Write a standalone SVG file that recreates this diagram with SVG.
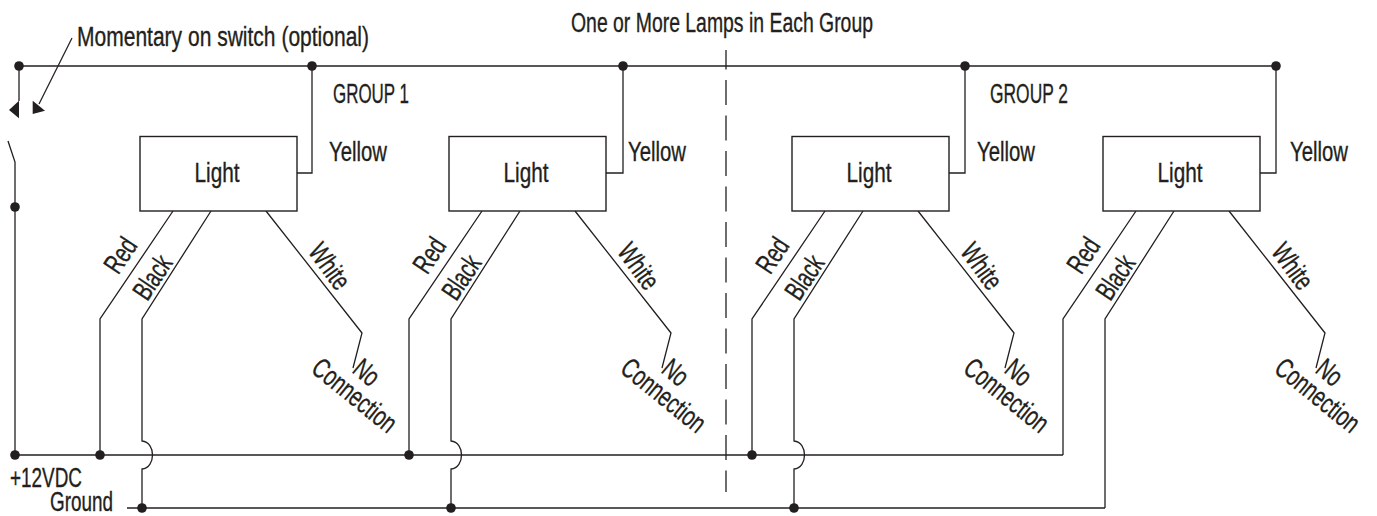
<svg xmlns="http://www.w3.org/2000/svg" width="1377" height="516" viewBox="0 0 1377 516">
<style>
.w{fill:none;stroke:#231f20;stroke-width:1.3}
.box{fill:#fff;stroke:#231f20;stroke-width:1.4}
.dot{fill:#231f20}
.dash{fill:none;stroke:#231f20;stroke-width:1.3;stroke-dasharray:25 10.5;stroke-dashoffset:5.5}
text{font-family:"Liberation Sans Narrow","Liberation Sans",Arial,sans-serif;fill:#231f20;stroke:#231f20;stroke-width:0.35;font-size:27px}
.lb{font-size:28px}
.mid{text-anchor:middle}
</style>
<rect width="1377" height="516" fill="#fff"/>

<g id="titles">
<text x="77" y="46" textLength="292" lengthAdjust="spacingAndGlyphs">Momentary on switch (optional)</text>
<text x="571" y="32" textLength="302" lengthAdjust="spacingAndGlyphs">One or More Lamps in Each Group</text>
<text x="333" y="103" font-size="28" textLength="76" lengthAdjust="spacingAndGlyphs">GROUP 1</text>
<text x="990" y="103" font-size="28" textLength="78" lengthAdjust="spacingAndGlyphs">GROUP 2</text>
<text x="10" y="487" textLength="72" lengthAdjust="spacingAndGlyphs">+12VDC</text>
<text x="50" y="511" font-size="26" textLength="63" lengthAdjust="spacingAndGlyphs">Ground</text>
</g>

<path class="dash" d="M726,50 V492"/>

<g id="switch">
<path class="w" d="M19,66 V101"/>
<path class="dot" d="M19,100.7 L19,118.3 L9,110 Z"/>
<path class="dot" d="M32.7,100.7 L32.7,114 L45,110.7 Z"/>
<path class="w" d="M72,38 L39,104"/>
<path class="w" d="M8,141 L15,162 V455"/>
<circle class="dot" cx="15" cy="207" r="4.8"/>
</g>

<g id="connectors">
<path class="w" d="M19,66 H1276"/>
<path class="w" d="M15,455 H1063"/>
<path class="w" d="M127,508 H1105"/>
<!-- light 1 wires -->
<path class="w" d="M312,66 V173 H297"/>
<path class="w" d="M173,211 L100,319 V455"/>
<path class="w" d="M211,211 L142,319 V441 C156,442 156,468 142,469 V508"/>
<path class="w" d="M266,211 L362,333 L353,368"/>
<!-- light 2 wires -->
<path class="w" d="M623,66 V173 H606"/>
<path class="w" d="M482,211 L409,319 V455"/>
<path class="w" d="M520,211 L451,319 V441 C465,442 465,468 451,469 V508"/>
<path class="w" d="M575,211 L671,333 L662,368"/>
<!-- light 3 wires -->
<path class="w" d="M965,66 V173 H949"/>
<path class="w" d="M825,211 L752,319 V455"/>
<path class="w" d="M863,211 L794,319 V441 C808,442 808,468 794,469 V508"/>
<path class="w" d="M918,211 L1014,333 L1005,368"/>
<!-- light 4 wires -->
<path class="w" d="M1276,66 V173 H1260"/>
<path class="w" d="M1136,211 L1063,319 V455"/>
<path class="w" d="M1174,211 L1105,319 V508"/>
<path class="w" d="M1229,211 L1325,333 L1316,368"/>
<!-- junction dots -->
<circle class="dot" cx="19" cy="66" r="4.8"/>
<circle class="dot" cx="312" cy="66" r="4.8"/>
<circle class="dot" cx="623" cy="66" r="4.8"/>
<circle class="dot" cx="965" cy="66" r="4.8"/>
<circle class="dot" cx="1276" cy="66" r="4.8"/>
<circle class="dot" cx="15" cy="455" r="4.8"/>
<circle class="dot" cx="100" cy="455" r="4.8"/>
<circle class="dot" cx="409" cy="455" r="4.8"/>
<circle class="dot" cx="752" cy="455" r="4.8"/>
<circle class="dot" cx="142" cy="508" r="4.8"/>
<circle class="dot" cx="451" cy="508" r="4.8"/>
<circle class="dot" cx="794" cy="508" r="4.8"/>
</g>

<g id="light1">
<rect class="box" x="140" y="136.5" width="157" height="74.5"/>
<text class="mid" x="217" y="182" font-size="28" textLength="45" lengthAdjust="spacingAndGlyphs">Light</text>
<text x="329" y="161" textLength="58" lengthAdjust="spacingAndGlyphs">Yellow</text>
<text class="lb mid" transform="translate(120,255) rotate(-56)" y="10" textLength="36" lengthAdjust="spacingAndGlyphs">Red</text>
<text class="lb mid" transform="translate(152,277) rotate(-56)" y="10" textLength="47" lengthAdjust="spacingAndGlyphs">Black</text>
<text class="lb mid" transform="translate(330,266) rotate(54)" y="10" textLength="50" lengthAdjust="spacingAndGlyphs">White</text>
<text class="lb mid" transform="translate(367,372) rotate(40)" y="10" textLength="25" lengthAdjust="spacingAndGlyphs">No</text>
<text class="lb mid" transform="translate(355,395) rotate(39)" y="10" textLength="100" lengthAdjust="spacingAndGlyphs">Connection</text>
</g>

<g id="light2">
<rect class="box" x="449" y="136.5" width="157" height="74.5"/>
<text class="mid" x="526" y="182" font-size="28" textLength="45" lengthAdjust="spacingAndGlyphs">Light</text>
<text x="628" y="161" textLength="58" lengthAdjust="spacingAndGlyphs">Yellow</text>
<text class="lb mid" transform="translate(429,255) rotate(-56)" y="10" textLength="36" lengthAdjust="spacingAndGlyphs">Red</text>
<text class="lb mid" transform="translate(461,277) rotate(-56)" y="10" textLength="47" lengthAdjust="spacingAndGlyphs">Black</text>
<text class="lb mid" transform="translate(639,266) rotate(54)" y="10" textLength="50" lengthAdjust="spacingAndGlyphs">White</text>
<text class="lb mid" transform="translate(676,372) rotate(40)" y="10" textLength="25" lengthAdjust="spacingAndGlyphs">No</text>
<text class="lb mid" transform="translate(664,395) rotate(39)" y="10" textLength="100" lengthAdjust="spacingAndGlyphs">Connection</text>
</g>

<g id="light3">
<rect class="box" x="792" y="136.5" width="157" height="74.5"/>
<text class="mid" x="869" y="182" font-size="28" textLength="45" lengthAdjust="spacingAndGlyphs">Light</text>
<text x="977" y="161" textLength="58" lengthAdjust="spacingAndGlyphs">Yellow</text>
<text class="lb mid" transform="translate(772,255) rotate(-56)" y="10" textLength="36" lengthAdjust="spacingAndGlyphs">Red</text>
<text class="lb mid" transform="translate(804,277) rotate(-56)" y="10" textLength="47" lengthAdjust="spacingAndGlyphs">Black</text>
<text class="lb mid" transform="translate(982,266) rotate(54)" y="10" textLength="50" lengthAdjust="spacingAndGlyphs">White</text>
<text class="lb mid" transform="translate(1019,372) rotate(40)" y="10" textLength="25" lengthAdjust="spacingAndGlyphs">No</text>
<text class="lb mid" transform="translate(1007,395) rotate(39)" y="10" textLength="100" lengthAdjust="spacingAndGlyphs">Connection</text>
</g>

<g id="light4">
<rect class="box" x="1103" y="136.5" width="157" height="74.5"/>
<text class="mid" x="1180" y="182" font-size="28" textLength="45" lengthAdjust="spacingAndGlyphs">Light</text>
<text x="1290" y="161" textLength="58" lengthAdjust="spacingAndGlyphs">Yellow</text>
<text class="lb mid" transform="translate(1083,255) rotate(-56)" y="10" textLength="36" lengthAdjust="spacingAndGlyphs">Red</text>
<text class="lb mid" transform="translate(1115,277) rotate(-56)" y="10" textLength="47" lengthAdjust="spacingAndGlyphs">Black</text>
<text class="lb mid" transform="translate(1293,266) rotate(54)" y="10" textLength="50" lengthAdjust="spacingAndGlyphs">White</text>
<text class="lb mid" transform="translate(1330,372) rotate(40)" y="10" textLength="25" lengthAdjust="spacingAndGlyphs">No</text>
<text class="lb mid" transform="translate(1318,395) rotate(39)" y="10" textLength="100" lengthAdjust="spacingAndGlyphs">Connection</text>
</g>
</svg>
